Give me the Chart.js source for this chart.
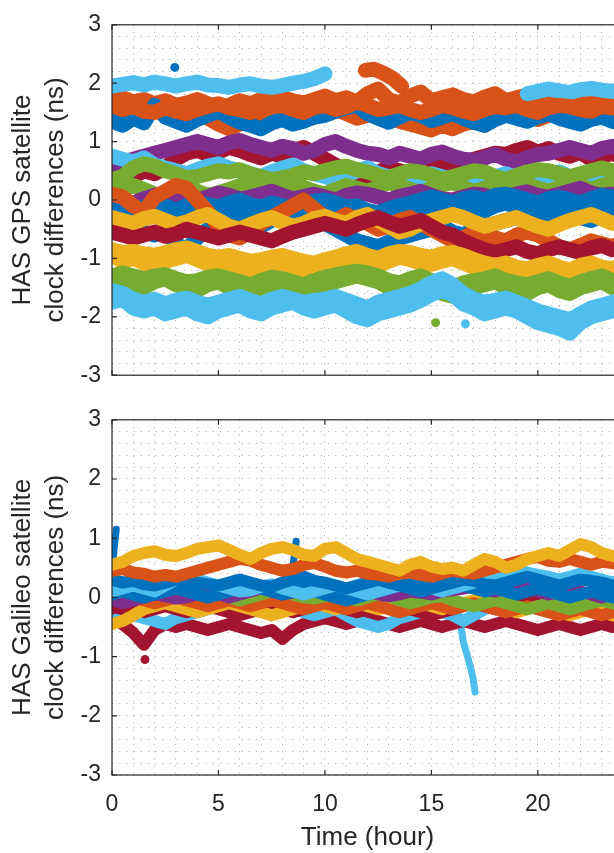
<!DOCTYPE html>
<html>
<head>
<meta charset="utf-8">
<script src="https://cdn.jsdelivr.net/npm/chart.js@4.4.1/dist/chart.umd.min.js"></script>
<style>
html,body{margin:0;padding:0;background:#fff;overflow:hidden;width:614px;height:853px;}
canvas{position:absolute;left:0;}
#c1{top:0;}
#c2{top:395px;}
</style>
</head>
<body>
<canvas id="c1" width="640" height="400"></canvas>
<canvas id="c2" width="640" height="458"></canvas>
<script>
// ---------- data ----------
const hours = [0,0.5,1,1.5,2,2.5,3,3.5,4,4.5,5,5.5,6,6.5,7,7.5,8,8.5,9,9.5,10,10.5,11,11.5,12,12.5,13,13.5,14,14.5,15,15.5,16,16.5,17,17.5,18,18.5,19,19.5,20,20.5,21,21.5,22,22.5,23,23.5,24];
const xTickLabels = [0,5,10,15,20];
const yTickLabels = [-3,-2,-1,0,1,2,3];

// GPS series (ns)
const gLbTop = [1.95,1.98,2.01,1.97,2.02,1.99,1.95,1.99,2.02,1.97, 1.96,1.93,1.97,1.99,1.95,1.93,1.96,2.0,2.03,2.08, 2.16,null,null,null,null,null,null,null,null,null, null,null,null,null,null,null,null,null,null,1.82, 1.86,1.9,1.87,1.84,1.89,1.91,1.88,1.86,1.9];
const gBlTop = [1.35,1.28,1.4,1.32,1.62,1.42,1.35,1.28,1.38,1.45, 1.52,1.42,1.33,1.28,1.22,1.32,1.38,1.3,1.35,1.42, 1.45,1.52,1.58,1.62,1.48,1.4,1.33,1.42,1.5,1.45, 1.36,1.42,1.48,1.4,1.33,1.28,1.38,1.45,1.4,1.35, 1.42,1.48,1.4,1.35,1.3,1.38,1.42,1.35,1.3];
const gOrC = [1.62,1.55,1.6,1.52,1.5,1.58,1.52,1.48,1.55,1.6, 1.65,1.58,1.55,1.5,1.55,1.6,1.62,1.55,1.5,1.58, 1.62,1.55,1.6,1.68,1.62,1.55,1.58,1.62,1.55,1.5, 1.55,1.62,1.58,1.52,1.48,1.55,1.6,1.58,1.62,1.55, 1.5,1.58,1.62,1.6,1.55,1.52,1.6,1.58,1.55];
const gOrB = [1.5,1.45,1.55,1.5,1.58,1.52,1.6,1.55,1.48,1.4, 1.3,1.22,1.3,1.38,1.45,1.4,1.5,1.45,1.38,1.42, 1.5,1.55,1.48,1.4,1.45,1.5,1.42,1.35,1.3,1.25, 1.2,1.28,1.22,1.3,1.35,1.28,1.4,1.45,1.5,1.42, 1.38,1.45,1.5,1.55,1.48,1.42,1.5,1.45,1.4];
const gOrA = [1.82,1.75,1.68,1.72,1.65,1.7,1.62,1.66,1.72,1.65, 1.58,1.62,1.7,1.65,1.72,1.68,1.75,1.7,1.66,1.72, 1.78,1.7,1.75,1.68,1.82,1.9,1.72,1.66,1.78,1.85, 1.7,1.75,1.8,1.72,1.68,1.76,1.82,1.7,1.75,1.8, 1.72,1.78,1.84,1.75,1.7,1.78,1.82,1.75,1.7];
const gOrBlobX = [11.9,12.3,12.7,13.2,13.6];
const gOrBlobY = [2.22,2.24,2.18,2.08,1.95];
const gYeBitX = [4.3,4.6,4.9];
const gYeBitY = [1.95,2.0,1.97];
const gBlDotX = [2.95];
const gBlDotY = [2.27];

const gPuA = [0.6,0.65,0.7,0.75,0.8,0.85,0.9,0.95,1.0,0.95, 0.9,0.98,1.02,0.95,0.9,0.85,0.92,0.88,0.8,0.85, 0.95,1.0,0.92,0.85,0.8,0.78,0.72,0.8,0.75,0.7, 0.78,0.82,0.75,0.7,0.68,0.72,0.78,0.7,0.65,0.72, 0.78,0.8,0.85,0.9,0.85,0.8,0.88,0.92,0.85];
const gDrA = [0.55,0.45,0.4,0.5,0.45,0.55,0.7,0.8,0.85,0.78, 0.82,0.9,0.85,0.78,0.72,0.8,0.75,0.85,0.9,0.8, 0.7,0.6,0.5,0.45,0.4,0.48,0.55,0.5,0.45,0.55, 0.6,0.65,0.58,0.62,0.7,0.75,0.8,0.78,0.85,0.9, 0.82,0.88,0.8,0.75,0.82,0.7,0.75,0.8,0.72];
const gLbMid = [0.75,0.7,0.65,0.72,0.6,0.55,0.5,0.45,0.52,0.58, 0.62,0.55,0.5,0.45,0.4,0.48,0.55,0.6,0.5,0.45, 0.4,0.35,0.42,0.5,0.55,0.45,0.4,0.35,0.3,0.38, 0.45,0.4,0.35,0.3,0.25,0.32,0.4,0.45,0.38,0.3, 0.35,0.42,0.48,0.4,0.35,0.3,0.38,0.45,0.4];
const gGrA = [0.35,0.4,0.55,0.62,0.58,0.5,0.45,0.38,0.4,0.45, 0.5,0.48,0.52,0.45,0.4,0.35,0.38,0.42,0.48,0.45, 0.5,0.55,0.58,0.52,0.48,0.42,0.38,0.45,0.5,0.48, 0.42,0.35,0.4,0.45,0.5,0.48,0.4,0.35,0.42,0.48, 0.52,0.5,0.45,0.4,0.45,0.5,0.55,0.5,0.45];
const gGrB = [0.15,0.2,0.25,0.18,0.1,0.05,0.12,0.2,0.15,0.08, 0.12,0.18,0.25,0.3,0.22,0.15,0.2,0.28,0.22,0.15, 0.1,0.18,0.25,0.2,0.15,0.22,0.3,0.25,0.18,0.12, 0.2,0.26,0.3,0.22,0.15,0.2,0.25,0.3,0.35,0.28, 0.2,0.15,0.22,0.3,0.25,0.18,0.25,0.3,0.22];
const gPuB = [0.05,0.0,-0.05,0.02,0.08,0.1,0.05,-0.02,0.0,0.05, 0.12,0.08,0.02,0.05,0.1,0.15,0.08,0.02,0.06,0.1, 0.05,0.0,0.08,0.12,0.1,0.05,0.0,0.06,0.1,0.15, 0.08,0.02,0.0,0.05,0.1,0.08,0.02,0.05,0.1,0.14, 0.08,0.05,0.1,0.15,0.2,0.12,0.08,0.1,0.05];
const gOrMid = [0.1,0.05,-0.1,-0.2,0.05,0.15,0.25,0.2,0.0,-0.2, -0.45,-0.6,-0.65,-0.55,-0.4,-0.3,-0.2,-0.1,0.0,-0.15, -0.3,-0.35,-0.25,-0.35,-0.4,-0.5,-0.45,-0.35,-0.3,-0.4, -0.5,-0.6,-0.7,-0.65,-0.55,-0.6,-0.65,-0.7,-0.6,-0.55, -0.6,-0.7,-0.8,-0.85,-0.78,-0.7,-0.75,-0.8,-0.72];
const gYeMid = [-0.3,-0.35,-0.4,-0.32,-0.28,-0.35,-0.42,-0.38,-0.3,-0.25, -0.35,-0.45,-0.5,-0.42,-0.35,-0.3,-0.38,-0.45,-0.4,-0.32, -0.28,-0.35,-0.4,-0.3,-0.25,-0.35,-0.45,-0.55,-0.5,-0.4, -0.35,-0.3,-0.25,-0.3,-0.38,-0.45,-0.4,-0.35,-0.3,-0.38, -0.45,-0.5,-0.42,-0.35,-0.3,-0.25,-0.32,-0.4,-0.35];
const gBlB = [-0.4,-0.5,-0.45,-0.55,-0.6,-0.5,-0.75,-0.85,-0.65,-0.5, -0.45,-0.35,-0.3,-0.38,-0.45,-0.35,-0.3,-0.4,-0.35,-0.3, -0.4,-0.5,-0.6,-0.7,-0.75,-0.8,-0.72,-0.65,-0.6,-0.55, -0.5,-0.45,-0.55,-0.6,-0.5,-0.45,-0.4,-0.35,-0.3,-0.25, -0.3,-0.35,-0.28,-0.22,-0.3,-0.35,-0.28,-0.2,-0.25];
const gDrB = [-0.55,-0.6,-0.65,-0.6,-0.55,-0.62,-0.58,-0.5,-0.55,-0.6, -0.65,-0.6,-0.55,-0.6,-0.65,-0.7,-0.62,-0.55,-0.5,-0.45, -0.4,-0.45,-0.5,-0.42,-0.35,-0.3,-0.38,-0.45,-0.4,-0.35, -0.45,-0.55,-0.6,-0.7,-0.78,-0.85,-0.9,-0.85,-0.8,-0.88, -0.92,-0.85,-0.8,-0.85,-0.9,-0.82,-0.78,-0.85,-0.8];
const gBlC = [-0.1,-0.05,-0.15,-0.12,-0.05,-0.1,-0.18,-0.1,-0.05,-0.08, -0.12,-0.05,0.0,-0.08,-0.12,-0.05,-0.1,-0.15,-0.08,-0.02, 0.0,-0.05,-0.12,-0.1,-0.18,-0.22,-0.15,-0.1,-0.05,0.0, 0.05,0.0,-0.05,0.02,0.05,0.0,0.08,0.1,0.05,0.0, -0.05,0.02,0.05,0.0,-0.05,0.02,0.08,0.05,0.0];
const gBlA = [-0.3,-0.25,-0.35,-0.28,-0.2,-0.3,-0.25,-0.15,-0.2,-0.25, -0.22,-0.18,-0.25,-0.2,-0.15,-0.22,-0.28,-0.2,-0.15,-0.1, -0.18,-0.25,-0.2,-0.28,-0.35,-0.4,-0.45,-0.38,-0.3,-0.25, -0.2,-0.15,-0.1,-0.05,-0.12,-0.18,-0.1,-0.05,-0.12,-0.2, -0.15,-0.1,-0.18,-0.25,-0.2,-0.15,-0.1,-0.18,-0.22];
const gYeLow = [-0.95,-1.05,-1.0,-1.08,-1.12,-1.05,-1.0,-0.95,-1.02,-1.1, -1.12,-1.08,-1.15,-1.2,-1.18,-1.12,-1.08,-1.15,-1.2,-1.22, -1.15,-1.1,-1.05,-1.0,-1.08,-1.12,-1.05,-0.98,-1.02,-1.08, -1.1,-1.05,-1.0,-1.08,-1.15,-1.2,-1.25,-1.2,-1.28,-1.3, -1.25,-1.2,-1.28,-1.32,-1.25,-1.2,-1.28,-1.3,-1.22];
const gYeLow2 = [-0.85,-0.9,-0.88,-0.92,-0.95,-0.9,-0.85,-0.82,-0.88,-0.95, -0.98,-0.95,-1.0,-1.05,-1.02,-0.98,-0.95,-1.0,-1.05,-1.08, -1.02,-0.98,-0.92,-0.88,-0.95,-1.0,-0.92,-0.88,-0.9,-0.95, -0.98,-0.92,-0.9,-0.95,-1.02,-1.08,-1.12,-1.08,-1.15,-1.18, -1.12,-1.08,-1.15,-1.2,-1.12,-1.08,-1.15,-1.18,-1.1];
const gGrLow = [-1.4,-1.35,-1.45,-1.5,-1.4,-1.35,-1.45,-1.5,-1.55,-1.45, -1.4,-1.5,-1.55,-1.6,-1.5,-1.45,-1.5,-1.55,-1.6,-1.5, -1.45,-1.4,-1.35,-1.3,-1.35,-1.4,-1.5,-1.55,-1.45,-1.4, -1.5,-1.6,-1.65,-1.55,-1.5,-1.45,-1.4,-1.5,-1.55,-1.6, -1.5,-1.45,-1.55,-1.6,-1.5,-1.45,-1.4,-1.5,-1.55];
const gGrLow2 = [-1.3,-1.25,-1.3,-1.35,-1.3,-1.28,-1.35,-1.4,-1.38,-1.32, -1.3,-1.35,-1.4,-1.45,-1.38,-1.32,-1.35,-1.4,-1.45,-1.38, -1.32,-1.28,-1.25,-1.22,-1.25,-1.3,-1.38,-1.42,-1.35,-1.3, -1.38,-1.45,-1.5,-1.42,-1.38,-1.35,-1.3,-1.38,-1.42,-1.45, -1.4,-1.35,-1.42,-1.48,-1.4,-1.35,-1.3,-1.38,-1.42];
const gLbLow = [-1.75,-1.7,-1.85,-1.9,-1.85,-1.95,-1.9,-1.85,-1.95,-2.0, -1.9,-1.85,-1.8,-1.9,-1.95,-1.85,-1.8,-1.75,-1.85,-1.9, -1.85,-1.8,-1.9,-2.0,-2.05,-1.95,-1.9,-1.85,-1.8,-1.72, -1.62,-1.55,-1.62,-1.78,-1.85,-1.95,-1.9,-1.85,-1.9,-2.0, -2.1,-2.15,-2.2,-2.28,-2.1,-2.0,-1.95,-1.9,-1.85];
const gLbLow2 = [-1.55,-1.6,-1.7,-1.75,-1.7,-1.78,-1.72,-1.68,-1.75,-1.8, -1.75,-1.7,-1.65,-1.72,-1.78,-1.7,-1.65,-1.7,-1.75,-1.72, -1.7,-1.65,-1.72,-1.78,-1.85,-1.75,-1.7,-1.65,-1.6,-1.52, -1.42,-1.35,-1.45,-1.6,-1.7,-1.75,-1.72,-1.68,-1.75,-1.82, -1.9,-1.95,-2.0,-2.05,-1.95,-1.85,-1.8,-1.75,-1.7];
const gLbDotX = [16.6];
const gLbDotY = [-2.12];
const gGrDotX = [15.2];
const gGrDotY = [-2.1];

// Galileo series (ns)
const eYe = [0.55,0.6,0.7,0.75,0.78,0.72,0.7,0.75,0.82,0.85, 0.88,0.8,0.72,0.65,0.75,0.82,0.85,0.8,0.72,0.7, 0.82,0.85,0.75,0.65,0.6,0.55,0.5,0.45,0.55,0.6, 0.52,0.48,0.5,0.45,0.55,0.65,0.6,0.5,0.55,0.65, 0.7,0.75,0.7,0.8,0.9,0.85,0.75,0.7,0.68];
const eOr = [0.45,0.48,0.42,0.4,0.35,0.38,0.35,0.4,0.45,0.5, 0.55,0.6,0.65,0.62,0.55,0.5,0.45,0.48,0.55,0.58, 0.52,0.45,0.42,0.45,0.4,0.38,0.35,0.4,0.42,0.38, 0.35,0.4,0.45,0.42,0.4,0.45,0.5,0.55,0.6,0.65, 0.68,0.62,0.6,0.65,0.6,0.55,0.6,0.58,0.55];
const eBlA = [0.3,0.25,0.28,0.22,0.2,0.25,0.3,0.28,0.25,0.22, 0.2,0.25,0.3,0.25,0.2,0.18,0.25,0.3,0.35,0.28, 0.25,0.2,0.15,0.2,0.25,0.3,0.25,0.2,0.22,0.18, 0.15,0.2,0.25,0.3,0.28,0.22,0.2,0.25,0.3,0.35, 0.3,0.25,0.2,0.25,0.3,0.28,0.25,0.2,0.22];
const eLbA = [0.1,0.15,0.2,0.15,0.1,0.2,0.3,0.35,0.3,0.25, 0.2,0.15,0.1,0.12,0.18,0.22,0.15,0.1,0.05,0.1, 0.15,0.2,0.15,0.1,0.05,0.1,0.15,0.2,0.25,0.2, 0.15,0.1,0.15,0.2,0.25,0.3,0.35,0.4,0.45,0.42, 0.38,0.35,0.3,0.35,0.4,0.35,0.3,0.25,0.3];
const eBlB = [0.05,0.1,0.05,0.0,0.05,0.1,0.15,0.1,0.05,0.0, 0.05,0.1,0.15,0.2,0.15,0.1,0.05,0.1,0.15,0.1, 0.05,0.0,-0.05,0.0,0.05,0.1,0.15,0.2,0.15,0.1, 0.15,0.2,0.25,0.2,0.15,0.1,0.15,0.1,0.05,0.1, 0.15,0.1,0.05,0.0,0.05,0.1,0.05,0.0,0.05];
const ePu = [-0.05,-0.1,-0.05,0.0,0.05,0.02,-0.02,0.0,0.05,0.1, 0.05,0.0,0.05,0.1,0.15,0.1,0.05,0.08,0.12,0.15, 0.1,0.05,0.08,0.12,0.1,0.05,0.02,0.05,0.1,0.08, 0.05,0.1,0.12,0.15,0.18,0.12,0.1,0.15,0.2,0.15, 0.1,0.05,0.08,0.12,0.1,0.05,0.0,0.05,0.08];
const eGr = [0.08,0.05,0.1,0.12,0.08,0.05,0.0,0.05,0.08,0.1, 0.05,0.0,-0.05,0.0,0.05,0.1,0.08,0.05,0.0,-0.02, 0.02,0.05,0.0,-0.05,0.0,0.05,0.02,-0.05,-0.1,-0.05, 0.0,0.02,-0.05,-0.1,-0.15,-0.1,-0.05,-0.1,-0.15,-0.2, -0.15,-0.1,-0.15,-0.2,-0.15,-0.1,-0.05,-0.1,-0.15];
const eOrLow = [0.1,0.05,0.0,-0.05,-0.1,-0.05,0.0,-0.05,-0.1,-0.15, -0.1,-0.05,-0.1,-0.15,-0.1,-0.05,-0.1,-0.15,-0.2,-0.15, -0.1,-0.15,-0.2,-0.15,-0.1,-0.15,-0.2,-0.25,-0.2,-0.15, -0.1,-0.15,-0.2,-0.15,-0.1,-0.15,-0.2,-0.25,-0.2,-0.15, -0.2,-0.25,-0.3,-0.25,-0.2,-0.25,-0.3,-0.25,-0.2];
const eYeLow = [-0.45,-0.4,-0.3,-0.2,-0.15,-0.1,-0.15,-0.2,-0.25,-0.2, -0.15,-0.1,-0.15,-0.2,-0.25,-0.3,-0.25,-0.2,-0.15,-0.1, -0.15,-0.2,-0.15,-0.1,-0.15,-0.2,-0.15,-0.1,-0.05,-0.1, -0.15,-0.2,-0.15,-0.1,-0.05,-0.1,-0.15,-0.2,-0.25,-0.2, -0.15,-0.2,-0.25,-0.3,-0.25,-0.2,-0.25,-0.3,-0.35];
const eDrA = [-0.15,-0.2,-0.15,-0.25,-0.2,-0.15,-0.2,-0.25,-0.2,-0.15, -0.2,-0.25,-0.3,-0.25,-0.2,-0.15,-0.2,-0.25,-0.2,-0.15, -0.1,-0.15,-0.2,-0.25,-0.2,-0.15,-0.1,-0.15,-0.2,-0.25, -0.3,-0.25,-0.2,-0.15,-0.1,-0.15,-0.2,-0.15,-0.1,-0.05, -0.1,-0.15,-0.2,-0.15,-0.1,-0.05,-0.1,-0.15,-0.1];
const eLbB = [-0.4,-0.35,-0.3,-0.35,-0.4,-0.45,-0.35,-0.3,-0.25,-0.2, -0.15,-0.2,-0.25,-0.2,-0.15,-0.1,-0.15,-0.2,-0.25,-0.3, -0.25,-0.2,-0.3,-0.4,-0.45,-0.5,-0.45,-0.35,-0.3,-0.25, -0.2,-0.25,-0.3,-0.4,-0.3,-0.2,-0.15,-0.1,-0.05,-0.1, -0.15,-0.2,-0.15,-0.1,-0.05,-0.1,-0.15,-0.2,-0.15];
const eDrB = [-0.35,-0.45,-0.6,-0.8,-0.55,-0.45,-0.5,-0.45,-0.5,-0.55, -0.5,-0.45,-0.5,-0.55,-0.6,-0.55,-0.7,-0.55,-0.45,-0.4, -0.35,-0.4,-0.45,-0.4,-0.35,-0.4,-0.45,-0.5,-0.45,-0.4, -0.45,-0.5,-0.45,-0.4,-0.45,-0.5,-0.45,-0.4,-0.45,-0.5, -0.55,-0.5,-0.45,-0.5,-0.55,-0.5,-0.45,-0.5,-0.45];
const eBlSpk1X = [0.05,0.12,0.2];
const eBlSpk1Y = [0.62,0.9,1.15];
const eBlSpk2X = [8.5,8.6,8.65];
const eBlSpk2Y = [0.55,0.8,0.95];
const eLbSpkX = [16.35,16.5,16.7,16.85,16.95,17.05];
const eLbSpkY = [-0.4,-0.75,-1.0,-1.2,-1.35,-1.6];
const eDrDotX = [1.55];
const eDrDotY = [-1.05];

// ---------- styling ----------
const C = {blue:'#0072BD', orange:'#D95319', yellow:'#EDB120', purple:'#7E2F8E', green:'#77AC30', lblue:'#4DBEEE', dred:'#A2142F'};
const AX = '#262626';
const FONT = '"Liberation Sans", Arial, Helvetica, sans-serif';

function line(color, vals, w) {
  return {data: hours.map((h, i) => ({x: h, y: vals[i]})), borderColor: color, backgroundColor: color,
    borderWidth: w, pointRadius: 0, fill: false, tension: 0, spanGaps: false,
    borderJoinStyle: 'round', borderCapStyle: 'round'};
}
function seg(color, xs, ys, w) {
  return {data: xs.map((x, i) => ({x: x, y: ys[i]})), borderColor: color, backgroundColor: color,
    borderWidth: w, pointRadius: 0, fill: false, tension: 0, borderJoinStyle: 'round', borderCapStyle: 'round'};
}
function dots(color, xs, ys) {
  return {data: xs.map((x, i) => ({x: x, y: ys[i]})), showLine: false, pointRadius: 4.5,
    pointBackgroundColor: color, pointBorderWidth: 0, borderColor: color};
}

const boxPlugin = {
  id: 'box',
  afterDatasetsDraw(chart) {
    const {ctx, chartArea: a, scales: {x, y}} = chart;
    ctx.save();
    ctx.setLineDash([]);
    ctx.strokeStyle = AX;
    ctx.lineWidth = 1.2;
    ctx.strokeRect(a.left, a.top, a.right - a.left, a.bottom - a.top);
    ctx.beginPath();
    xTickLabels.forEach(v => {
      const p = x.getPixelForValue(v);
      ctx.moveTo(p, a.bottom); ctx.lineTo(p, a.bottom - 5);
      ctx.moveTo(p, a.top); ctx.lineTo(p, a.top + 5);
    });
    yTickLabels.forEach(v => {
      const p = y.getPixelForValue(v);
      ctx.moveTo(a.left, p); ctx.lineTo(a.left + 5, p);
      ctx.moveTo(a.right, p); ctx.lineTo(a.right - 5, p);
    });
    ctx.stroke();
    ctx.restore();
  }
};

function makeChart(id, datasets, cfg) {
  const gridOpts = {color: 'rgba(80,80,80,0.4)', lineWidth: 1, drawTicks: false};
  const borderOpts = {display: false, dash: [1.2, 6]};
  return new Chart(document.getElementById(id), {
    type: 'line',
    data: {datasets: datasets},
    options: {
      responsive: false, animation: false, devicePixelRatio: 1,
      layout: {padding: {top: cfg.top, right: 17, left: 0, bottom: 0}, autoPadding: false},
      plugins: {legend: {display: false}, tooltip: {enabled: false}},
      scales: {
        x: {
          type: 'linear', min: 0, max: 24,
          afterFit: s => { s.height = cfg.xh; },
          ticks: {stepSize: 1, autoSkip: false, maxRotation: 0, maxTicksLimit: 100, display: cfg.showX,
            padding: 16, color: AX, font: {family: FONT, size: 23},
            callback: v => xTickLabels.includes(v) ? String(v) : ''},
          grid: gridOpts, border: borderOpts,
          title: {display: cfg.showX, text: 'Time (hour)', color: AX, padding: {top: 0, bottom: 0},
            font: {family: FONT, size: 26, lineHeight: 1.2}}
        },
        y: {
          type: 'linear', min: -3, max: 3,
          afterFit: s => { s.width = 112; },
          ticks: {stepSize: 0.2, autoSkip: false, maxTicksLimit: 100, padding: 11, color: AX,
            font: {family: FONT, size: 23},
            callback: v => { const r = Math.round(v); return (Math.abs(v - r) < 1e-6 && yTickLabels.includes(r)) ? String(r) : ''; }},
          grid: gridOpts, border: borderOpts,
          title: {display: true, text: cfg.ytitle, color: AX, padding: {top: 6, bottom: 0},
            font: {family: FONT, size: 26, lineHeight: 1.27}}
        }
      }
    },
    plugins: [boxPlugin]
  });
}

const GW = 15, EW = 12;
const gpsSets = [
  line(C.lblue, gLbLow, GW), line(C.lblue, gLbLow2, GW), line(C.green, gGrLow, GW), line(C.green, gGrLow2, GW),
  line(C.yellow, gYeLow, GW), line(C.yellow, gYeLow2, GW),
  line(C.dred, gDrB, GW), line(C.yellow, gYeMid, GW), line(C.orange, gOrMid, GW), line(C.blue, gBlB, GW),
  line(C.blue, gBlC, GW), line(C.blue, gBlA, GW), line(C.purple, gPuB, GW), line(C.green, gGrB, GW),
  line(C.green, gGrA, GW), line(C.lblue, gLbMid, GW), line(C.purple, gPuA, GW), line(C.dred, gDrA, GW),
  line(C.orange, gOrC, GW), line(C.blue, gBlTop, GW), line(C.lblue, gLbTop, GW), line(C.orange, gOrB, GW), line(C.orange, gOrA, GW),
  seg(C.orange, gOrBlobX, gOrBlobY, GW), seg(C.yellow, gYeBitX, gYeBitY, 10),
  dots(C.blue, gBlDotX, gBlDotY), dots(C.lblue, gLbDotX, gLbDotY), dots(C.green, gGrDotX, gGrDotY)
];
const galSets = [
  line(C.yellow, eYe, EW), line(C.orange, eOr, EW), line(C.blue, eBlA, EW), line(C.lblue, eLbA, EW),
  line(C.blue, eBlB, EW), line(C.purple, ePu, EW), line(C.green, eGr, EW), line(C.orange, eOrLow, EW),
  line(C.yellow, eYeLow, EW), line(C.dred, eDrA, EW), line(C.lblue, eLbB, EW), line(C.dred, eDrB, EW),
  seg(C.blue, eBlSpk1X, eBlSpk1Y, 7), seg(C.blue, eBlSpk2X, eBlSpk2Y, 7), seg(C.lblue, eLbSpkX, eLbSpkY, 7),
  dots(C.dred, eDrDotX, eDrDotY)
];

makeChart('c1', gpsSets, {top: 23, xh: 18, showX: false, ytitle: ['HAS GPS satellite', 'clock differences (ns)']});
makeChart('c2', galSets, {top: 20, xh: 78, showX: true, ytitle: ['HAS Galileo satellite', 'clock differences (ns)']});
</script>
</body>
</html>
